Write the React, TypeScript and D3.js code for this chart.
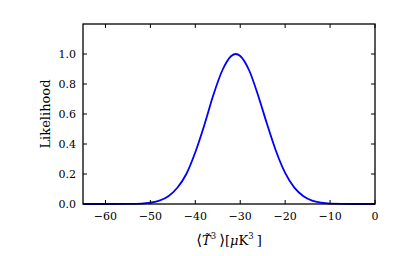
import React from "react";
import * as d3 from "d3";

// likelihood curve
const tValues = [-65, -60, -55, -52, -50, -48, -46, -44, -42, -40, -38, -36, -34, -32, -31, -30, -28, -26, -24, -22, -20, -18, -16, -14, -12, -10, -5, 0];
const likelihood = [0, 0, 0.001, 0.003, 0.009, 0.022, 0.052, 0.108, 0.2, 0.345, 0.525, 0.725, 0.89, 0.987, 1.0, 0.987, 0.89, 0.722, 0.53, 0.35, 0.207, 0.111, 0.054, 0.023, 0.009, 0.003, 0, 0];

const xTicks = [-60, -50, -40, -30, -20, -10, 0];
const yTicks = [0, 0.2, 0.4, 0.6, 0.8, 1.0];

export default function App() {
  const width = 415;
  const height = 256;
  const marginLeft = 83;
  const marginRight = 40;
  const marginTop = 24;
  const marginBottom = 52;

  const x = d3.scaleLinear().domain([-65, 0]).range([marginLeft, width - marginRight]);
  const y = d3.scaleLinear().domain([0, 1.2]).range([height - marginBottom, marginTop]);

  const line = d3.line<number>()
    .x((d, i) => x(tValues[i]))
    .y(d => y(d))
    .curve(d3.curveMonotoneX);

  const font = "'DejaVu Serif', serif";
  const tickLen = 4;
  const x0 = x(-65), x1 = x(0), y0 = y(0), y1 = y(1.2);

  return (
    <div style={{ position: "fixed", left: 0, top: 0 }}>
      <svg width={width} height={height} style={{ display: "block", background: "white" }}>
        {/* curve */}
        <path d={line(likelihood) || ""} fill="none" stroke="#0000ff" strokeWidth={1.8} />

        {/* ticks, inward on all sides */}
        <g stroke="black" strokeWidth={1}>
          {xTicks.map(t => (
            <g key={"x" + t}>
              <line x1={x(t)} x2={x(t)} y1={y0} y2={y0 - tickLen} />
              <line x1={x(t)} x2={x(t)} y1={y1} y2={y1 + tickLen} />
            </g>
          ))}
          {yTicks.map(t => (
            <g key={"y" + t}>
              <line x1={x0} x2={x0 + tickLen} y1={y(t)} y2={y(t)} />
              <line x1={x1} x2={x1 - tickLen} y1={y(t)} y2={y(t)} />
            </g>
          ))}
        </g>

        {/* frame */}
        <rect x={x0} y={y1} width={x1 - x0} height={y0 - y1} fill="none" stroke="black" strokeWidth={1.3} />

        {/* tick labels */}
        <g fontFamily={font} fontSize={11} fill="black">
          {xTicks.map(t => (
            <text key={"xl" + t} x={x(t)} y={y0 + 16} textAnchor="middle">
              {t < 0 ? "\u2212" + Math.abs(t) : t}
            </text>
          ))}
          {yTicks.map(t => (
            <text key={"yl" + t} x={x0 - 7} y={y(t)} textAnchor="end" dominantBaseline="central">
              {t.toFixed(1)}
            </text>
          ))}
        </g>

        {/* axis labels */}
        <text
          transform={`translate(${50}, ${(y0 + y1) / 2}) rotate(-90)`}
          textAnchor="middle"
          fontFamily={font}
          fontSize={13}
        >
          Likelihood
        </text>
        <text x={(x0 + x1) / 2} y={245} textAnchor="middle" fontFamily={font} fontSize={13}>
          <tspan fontSize={15}>{"\u27e8"}</tspan>
          <tspan fontStyle="italic">{"T\u0303"}</tspan>
          <tspan fontSize={8.5} dy={-6}>3</tspan>
          <tspan dy={6} dx={3} fontSize={15}>{"\u27e9"}</tspan>
          <tspan>[</tspan>
          <tspan fontStyle="italic">{"\u03bc"}</tspan>
          <tspan>K</tspan>
          <tspan fontSize={8.5} dy={-6}>3</tspan>
          <tspan dy={6} dx={3}>]</tspan>
        </text>
      </svg>
    </div>
  );
}
